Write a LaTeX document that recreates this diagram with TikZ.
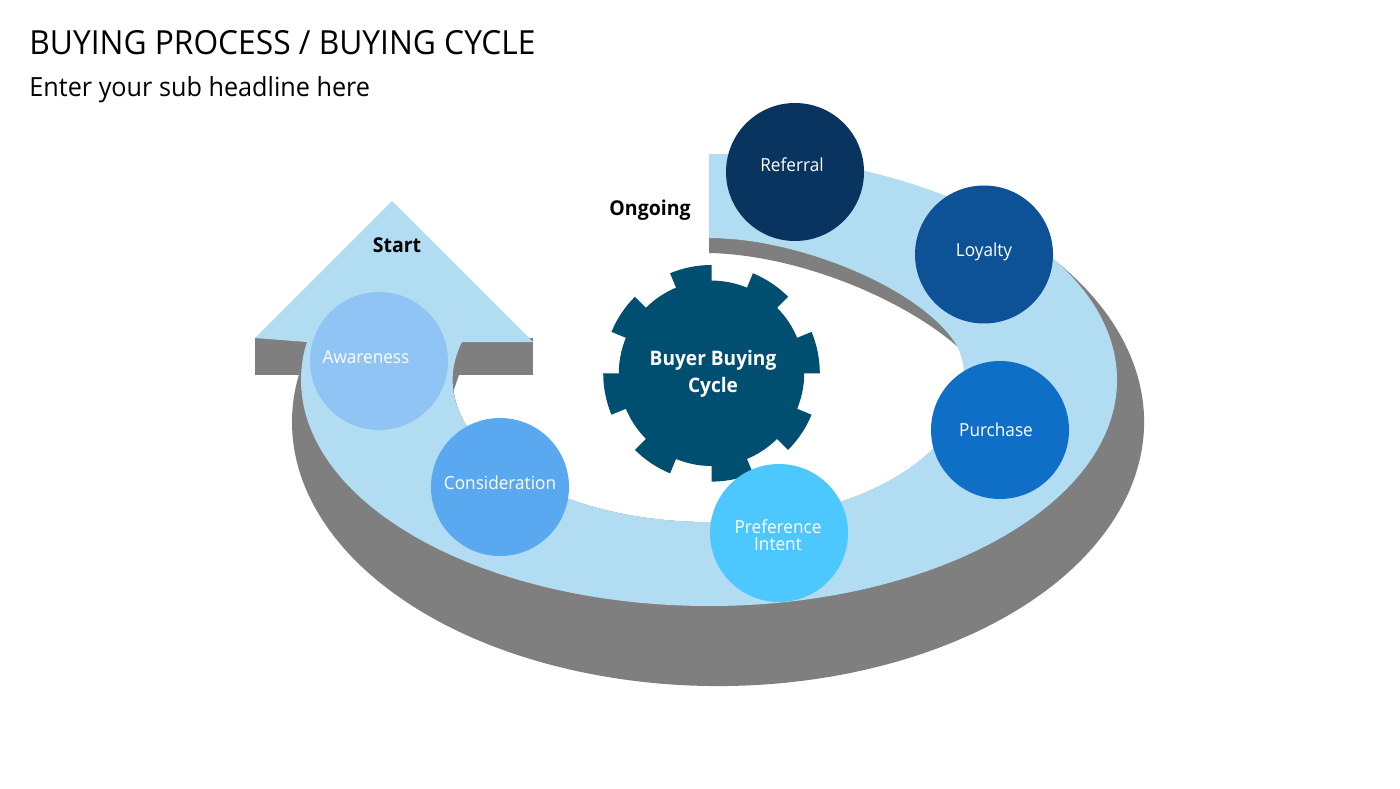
\documentclass[tikz,border=0pt]{standalone}
\usepackage{fontspec}
\setmainfont[FakeStretch=0.955]{Open Sans}
\usetikzlibrary{positioning}
\definecolor{bandblue}{HTML}{B2DCF2}
\definecolor{shadegrey}{HTML}{7F7F7F}
\definecolor{gearblue}{HTML}{004F71}
\definecolor{referralblue}{HTML}{08345F}
\definecolor{loyaltyblue}{HTML}{0D5296}
\definecolor{purchaseblue}{HTML}{0F6FC6}
\definecolor{preferenceblue}{HTML}{4DC8FF}
\definecolor{considerblue}{HTML}{5AA9F0}
\definecolor{awareblue}{HTML}{90C4F4}
\tikzset{
  stage/.style={circle, minimum size=69pt, inner sep=0pt},
  stagetext/.style={align=center, text=white, font=\fontsize{9}{8.6}\selectfont, inner sep=0pt},
  tagtext/.style={text=black, font=\fontsize{10.2}{12}\selectfont\bfseries, inner sep=0pt},
  headline/.style={anchor=west, text=black, inner sep=0pt}
}
\begin{document}
\begin{tikzpicture}[x=0.5pt, y=0.5pt]
  \useasboundingbox (0,0) rectangle (1400,788);
  \fill[white] (0,0) rectangle (1400,788);

  % Headlines
  \node[headline, font=\fontsize{16.6}{20}\selectfont] (title) at (29,745) {BUYING PROCESS / BUYING CYCLE};
  \node[headline, font=\fontsize{13.2}{15}\selectfont] (subtitle) at (29,698) {Enter your sub headline here};

  % Grey underside of the ring
  \fill[shadegrey] (718,366) ++(70.6:426 and 264) arc[start angle=70.6, end angle=-190.3, x radius=426, y radius=264] -- (709,408) -- cycle;
  \fill[white] (709,408) ellipse (256 and 142);
  \fill[shadegrey] (255,413) rectangle (533,450);
  \fill[shadegrey] (450,446) -- (459,413) -- (452,393) -- cycle;
  \fill[shadegrey] (709,550) arc[start angle=90, end angle=13.4, x radius=256, y radius=142]
       .. controls (905,488) and (800,533) .. (709,535) -- cycle;

  % Light ring with arrow head
  \fill[bandblue] (709,634) arc[start angle=90, end angle=-189.68, x radius=408, y radius=226]
       -- (255,450) -- (392,587) -- (533,446)
       -- (462,446) arc[start angle=164.5, end angle=373.4, x radius=256, y radius=142]
       .. controls (925,498) and (800,550) .. (709,550) -- cycle;

  % Gear
  \begin{scope}[shift={(711.5,414.7)}]
    \fill[gearblue] (0:92.7)
      \foreach \a in {0,45,...,315} {
        -- (\a:108.3) arc[start angle=\a, end angle=\a+22.5, radius=108.3]
        -- ({\a+22.5}:92.7) arc[start angle=\a+22.5, end angle=\a+45, radius=92.7]
      } -- cycle;
  \end{scope}
  \node[align=center, text=white, font=\fontsize{10}{13.4}\selectfont\bfseries, inner sep=0pt] (gear) at (713,414) {Buyer Buying\\Cycle};

  % Stages
  \node[stage, fill=awareblue] (awareness) at (379,427) {};
  \node[stage, fill=considerblue] (consideration) at (500,301) {};
  \node[stage, fill=preferenceblue] (preference) at (779,255) {};
  \node[stage, fill=purchaseblue] (purchase) at (1000,358) {};
  \node[stage, fill=loyaltyblue] (loyalty) at (984,533.5) {};
  \node[stage, fill=referralblue] (referral) at (795,616) {};

  \node[stagetext] (awarenesstext) at (366,431) {Awareness};
  \node[stagetext] (considerationtext) at (500,305) {Consideration};
  \node[stagetext] (preferencetext) at (778,253) {Preference\\Intent};
  \node[stagetext] (purchasetext) at (996,358) {Purchase};
  \node[stagetext] (loyaltytext) at (984,536) {Loyalty};
  \node[stagetext] (referraltext) at (792,623) {Referral};

  \node[tagtext] (start) at (397,543) {Start};
  \node[tagtext] (ongoing) at (650,578) {Ongoing};
\end{tikzpicture}
\end{document}
